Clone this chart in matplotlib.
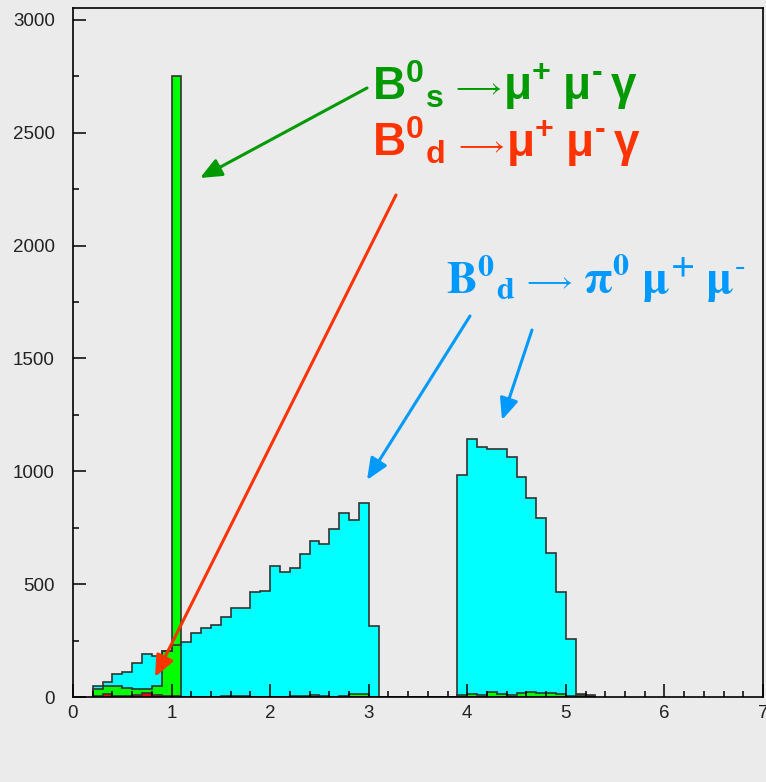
import numpy as np
import matplotlib
matplotlib.use('Agg')
import matplotlib.pyplot as plt

# bins of width 0.1 from 0.2 to 5.3
edges = np.round(np.arange(0.2, 5.31, 0.1), 1)

# B0d -> pi0 mu+ mu- (cyan)
cyan = [48, 65, 102, 112, 149, 189, 180, 204, 230,
        244, 282, 307, 320, 353, 396, 394, 465, 470,
        580, 554, 573, 635, 693, 677, 746, 814, 783, 858, 315,
        0, 0, 0, 0, 0, 0, 0, 0,
        984, 1145, 1109, 1100, 1100, 1065, 973, 883, 792, 640, 465, 257, 14, 6]

# B0s -> mu+ mu- gamma (green)
green = [35, 50, 48, 41, 35, 36, 48, 204, 2750,
         2, 1, 2, 1, 3, 6, 3, 2, 1,
         2, 1, 6, 3, 8, 6, 2, 3, 12, 14, 2,
         0, 0, 0, 0, 0, 0, 0, 0,
         8, 12, 8, 24, 12, 10, 18, 22, 16, 18, 14, 4, 10, 8]

# B0d -> mu+ mu- gamma (red)
red = [6, 14, 3, 3, 10, 18, 8, 4, 3,
       0, 0, 0, 0, 0, 0, 0, 0, 0,
       0, 0, 0, 0, 0, 0, 0, 0, 0, 0, 0,
       0, 0, 0, 0, 0, 0, 0, 0,
       0, 0, 0, 0, 0, 0, 0, 0, 0, 0, 0, 0, 0, 0]

bg = '#ebebeb'
edge = '#333333'

plt.rcParams['mathtext.fontset'] = 'custom'
plt.rcParams['mathtext.rm'] = 'Liberation Sans:bold'
plt.rcParams['mathtext.it'] = 'Liberation Sans:bold'
plt.rcParams['mathtext.bf'] = 'Liberation Sans:bold'
plt.rcParams['mathtext.sf'] = 'Liberation Sans:bold'

fig = plt.figure(figsize=(7.66, 7.82), dpi=100, facecolor=bg)
ax = fig.add_axes([73/766, 85/782, 690/766, 689/782], facecolor=bg)

for vals, col in [(cyan, '#00ffff'), (green, '#00ff00'), (red, '#ff0000')]:
    ax.stairs(vals, edges, fill=True, color=col, zorder=1)
    ax.stairs(vals, edges, baseline=0, color=edge, lw=1.2, zorder=1.1)

ax.set_xlim(0, 7)
ax.set_ylim(0, 3053)
ax.set_xticks(range(0, 8))
ax.set_xticks(np.arange(0, 7.01, 0.2), minor=True)
ax.set_yticks(range(0, 3001, 500))
ax.set_yticks(range(0, 3001, 250), minor=True)
ax.set_axisbelow(False)
ax.tick_params(which='both', direction='in', width=1.1, color='black',
               labelsize=13.5, labelcolor='#222222')
ax.tick_params(which='major', length=9.5)
ax.tick_params(which='minor', length=4.5)
ax.tick_params(axis='x', which='major', pad=6)
ax.tick_params(axis='y', which='major', pad=13)
for lab in ax.get_xticklabels() + ax.get_yticklabels():
    lab.set_family('Liberation Sans')
for sp in ax.spines.values():
    sp.set_linewidth(1.2)


def px(x, y):
    return ((x - 73) / 690 * 7, (697 - y) / 689 * 3053)


def arrow(tail, head, col):
    ax.annotate('', xy=px(*head), xytext=px(*tail),
                arrowprops=dict(arrowstyle='-|>,head_length=0.65,head_width=0.28',
                                color=col, lw=2.2, shrinkA=0, shrinkB=0,
                                mutation_scale=20), zorder=5)


def ftext(x, y, s, col, size=33, **kw):
    # x, y in picture pixels from top-left, baseline alignment
    fig.text(x / 766, 1 - y / 782, s, color=col, fontsize=size,
             ha='left', va='baseline', **kw)


green_c = '#009900'
red_c = '#ff3300'
blue_c = '#0099ff'

arrow((367, 88), (200, 178), green_c)
arrow((396, 195), (155, 677), red_c)
arrow((470, 316), (367, 480), blue_c)
arrow((532, 330), (502, 420), blue_c)

decay = r'$\mathbf{\mu^{+}\;\mu^{\text{-}}\,\gamma}$'
# B0s -> mu+ mu- gamma
ftext(372, 100, r'$\mathbf{B^{0}{}_{s}}$', green_c)
ftext(450, 95, r'$\longrightarrow$', green_c, size=21)
ftext(503, 100, decay, green_c)
# B0d -> mu+ mu- gamma
ftext(372, 157, r'$\mathbf{B^{0}{}_{d}}$', red_c)
ftext(453, 153, r'$\longrightarrow$', red_c, size=21)
ftext(506, 157, decay, red_c)
# B0d -> pi0 mu+ mu-
ftext(446, 293, r'$\mathbf{B^{0}{}_{d}}$', blue_c, math_fontfamily='stix')
ftext(521, 289, r'$\longrightarrow$', blue_c, size=21)
ftext(583, 293, r'$\mathbf{\pi^{0}\ \mu^{+}\;\mu^{\text{-}}}$', blue_c,
      math_fontfamily='stix')

fig.savefig('out.png', dpi=100, facecolor=bg)
